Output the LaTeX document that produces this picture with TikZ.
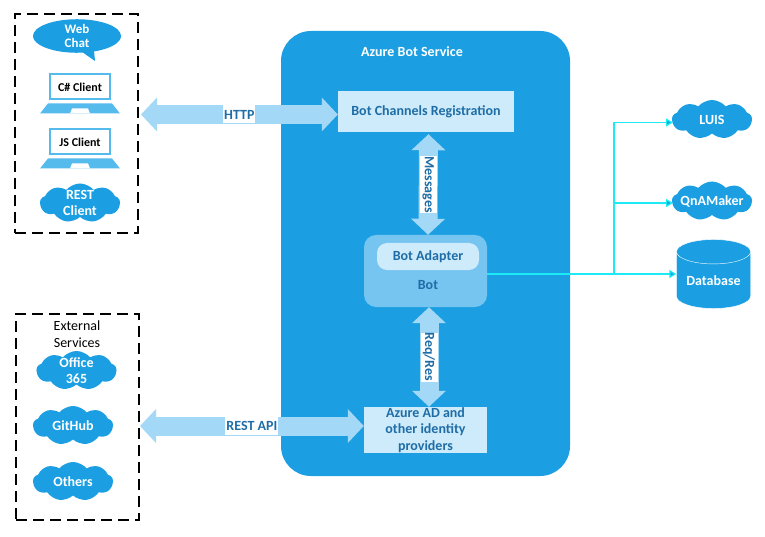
\documentclass[tikz,border=0pt]{standalone}
\usepackage{fontspec}
\setmainfont{Carlito}
\usetikzlibrary{arrows.meta,shapes.symbols,shapes.callouts,shapes.geometric}
\definecolor{azure}{HTML}{1B9FE2}
\definecolor{azuremid}{HTML}{76C4F0}
\definecolor{azurepale}{HTML}{CDEBFA}
\definecolor{linkblue}{HTML}{A3D8F6}
\definecolor{lapblue}{HTML}{55BAEC}
\definecolor{textblue}{HTML}{1F6DA6}
\definecolor{wirecyan}{HTML}{1CEBF5}
\begin{document}
\begin{tikzpicture}[
        x=1pt,y=-1pt,
        font=\fontsize{14}{16}\selectfont\bfseries,
        puff/.style={cloud,cloud puffs=9,cloud puff arc=100,aspect=2.1,fill=azure,
            inner sep=0pt,minimum width=80pt,minimum height=39pt},
        pufftext/.style={text=white,align=center,inner sep=0pt},
        groupbox/.style={draw=black,line width=1.8pt,dash pattern=on 11pt off 6pt,inner sep=0pt},
        palebox/.style={fill=azurepale,text=textblue,inner sep=0pt,align=center},
        screen/.style={draw=lapblue,line width=2pt,fill=white,text=black,minimum width=60pt,minimum height=25pt,inner sep=0pt,
            font=\fontsize{12}{14}\selectfont\bfseries},
        link/.style={draw=linkblue,line width=19pt,{Triangle[length=16pt,width=33pt]}-{Triangle[length=16pt,width=33pt]}},
        linktext/.style={fill=white,text=textblue,inner sep=0pt,minimum height=18pt},
        wire/.style={draw=wirecyan,line width=1.2pt},
        wiretip/.style={-{Triangle[length=7pt,width=8pt,fill=azure]}},
    ]
    \useasboundingbox (0,0) rectangle (765,537);
    % left groups
    \node[groupbox,minimum width=123pt,minimum height=219pt] (clients) at (76.5,123.5) {};
    \node[groupbox,minimum width=123pt,minimum height=206pt] (services) at (77.5,417) {};
    \node[ellipse callout,fill=azure,text=white,inner sep=0pt,minimum width=88pt,minimum height=33pt,
        callout absolute pointer={(95,61)},align=center,font=\fontsize{13}{14.5}\selectfont\bfseries] (webchat) at (77,36) {Web\\Chat};
    \foreach \pos/\name/\txt in {
            {(80,87)/csharp/C\# Client}, {(80,142)/jsclient/JS Client}}
        {
        \node[screen] (\name) at \pos {\txt};
        \fill[lapblue] ([shift={(-32,3)}]\name.south) -- ([shift={(32,3)}]\name.south)
            -- ([shift={(40,13)}]\name.south) -- ([shift={(-40,13)}]\name.south) -- cycle;
        \fill[white] ([shift={(-8,8)}]\name.south) -- ([shift={(8,8)}]\name.south)
            -- ([shift={(10,13)}]\name.south) -- ([shift={(-10,13)}]\name.south) -- cycle;
        }
    \node[font=\fontsize{14}{17}\selectfont,align=center] (extlabel) at (77,334) {External\\Services};
    % clouds
    \foreach \pos/\name/\txt in {
            {(80,203)/restclient/{REST\\Client}}, {(76.5,370.5)/office/{Office\\365}},
            {(73,425.5)/github/GitHub}, {(73,481.5)/others/Others},
            {(712,119.5)/luis/LUIS}, {(712,201)/qna/QnAMaker}}
        \node[puff,label={[pufftext]center:\txt}] (\name) at \pos {};
    % service panel
    \node[fill=azure,rounded corners=30pt,minimum width=289pt,minimum height=445pt,inner sep=0pt] (panel) at (425.5,253.5) {};
    \node[text=white] (paneltitle) at (412,52) {Azure Bot Service};
    \node[palebox,minimum width=176pt,minimum height=41pt] (bcr) at (426,111.5) {Bot Channels Registration};
    \node[fill=azuremid,text=textblue,rounded corners=12pt,minimum width=123pt,minimum height=72pt,inner sep=0pt] (bot) at (425.5,271) {};
    \node[palebox,rounded corners=10pt,minimum width=102pt,minimum height=27pt] (adapter) at (428,256.5) {Bot Adapter};
    \node[text=textblue] (botlabel) at (428,285) {Bot};
    \node[palebox,minimum width=123pt,minimum height=46pt,font=\fontsize{14}{16.5}\selectfont\bfseries] (aad) at (425.5,430) {Azure AD and\\other identity\\providers};
    \node[cylinder,shape border rotate=90,aspect=0.45,draw=white,fill=azure,text=white,minimum width=74pt,minimum height=69pt,inner sep=0pt,anchor=shape center] (db) at (713.5,274) {Database};
    % links
    \coordinate (clientsend) at (141,114.5);
    \coordinate (servicesend) at (140,426);
    \path[link] (clientsend) -- (bcr.west |- clientsend)
        node[midway,linktext,minimum width=32pt] (httplabel) {HTTP};
    \path[link] (servicesend) -- (aad.west |- servicesend)
        node[midway,linktext,minimum width=53pt] (restlabel) {REST API};
    \path[link] ([xshift=2.5pt,yshift=-2pt]bcr.south) -- ([xshift=2.5pt]bot.north)
        node[midway,linktext,rotate=-90,minimum width=57pt,minimum height=17pt] (msglabel) {Messages};
    \path[link] ([xshift=3.5pt]bot.south) -- ([xshift=3.5pt]aad.north)
        node[midway,linktext,rotate=-90,minimum width=49pt,minimum height=17pt] (reqlabel) {Req/Res};
    % wires to the right
    \coordinate (split) at (614,274);
    \coordinate (luisend) at (673,122.5);
    \coordinate (qnaend) at (673,203);
    \path[wire,wiretip] (bot.east |- split) -- (db.west |- split);
    \path[wire,wiretip] (split) |- (luisend);
    \path[wire,wiretip] (split) |- (qnaend);
\end{tikzpicture}
\end{document}
